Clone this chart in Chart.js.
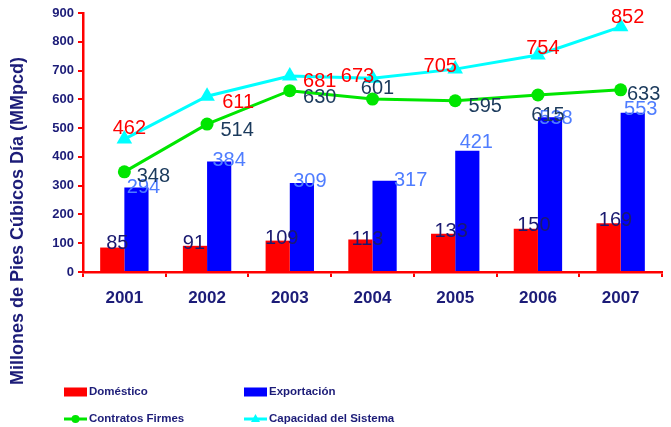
<!DOCTYPE html>
<html>
<head>
<meta charset="utf-8">
<script src="https://cdn.jsdelivr.net/npm/chart.js@4"></script>
<style>
  body { margin: 0; background: #fff; }
  #wrap { width: 671px; height: 427px; position: relative; }
</style>
</head>
<body>
<div id="wrap"><canvas id="myChart"></canvas></div>
<script>
const years = ['2001', '2002', '2003', '2004', '2005', '2006', '2007'];
const domestico = [85, 91, 109, 113, 133, 150, 169];
const exportacion = [294, 384, 309, 317, 421, 538, 553];
const contratos = [348, 514, 630, 601, 595, 615, 633];
const capacidad = [462, 611, 681, 673, 705, 754, 852];
const yMax = 900;
const yStep = 100;
const yTitle = 'Millones de Pies Cúbicos Día (MMpcd)';

const navy = '#1c1c78';

// where each value label sits relative to its mark (px), like the hand-placed labels
const labelShift = [
    [[5, -4], [-1, -2], [4, -2], [7, 0], [8, -2], [8, -3], [7, -3]],
    [[7, 0], [10, -1], [8, -2], [26, 0], [9, -8], [6, 1], [8, -3]],
    [[29, 5], [30, 6], [30, 7], [5, -11], [30, 6], [10, 20], [23, 5]],
    [[5, -11], [31, 6], [30, 5], [-15, -2], [-15, -3], [5, -7], [7, -9]]
];
const labelColors = ['#1a1a70', '#4f7dff', '#1b3a5c', '#ff0000'];

const valueLabels = {
    id: 'valueLabels',
    afterDatasetsDraw(chart) {
        const ctx = chart.ctx;
        ctx.save();
        ctx.font = '20px "Liberation Sans", Arial, sans-serif';
        ctx.textAlign = 'center';
        ctx.textBaseline = 'middle';
        [0, 1, 2, 3].forEach(di => {
            const meta = chart.getDatasetMeta(di);
            ctx.fillStyle = labelColors[di];
            meta.data.forEach((el, i) => {
                const s = labelShift[di][i];
                ctx.fillText(chart.data.datasets[di].data[i], el.x + s[0], el.y + s[1]);
            });
        });
        ctx.restore();
    }
};

const sideStuff = {
    id: 'sideStuff',
    afterDraw(chart) {
        const ctx = chart.ctx;
        ctx.save();
        // y axis title
        ctx.translate(18, 221);
        ctx.rotate(-Math.PI / 2);
        ctx.font = 'bold 18px "Liberation Sans", Arial, sans-serif';
        ctx.fillStyle = navy;
        ctx.textAlign = 'center';
        ctx.textBaseline = 'middle';
        ctx.fillText(yTitle, 0, 0);
        ctx.restore();

        // legend, two columns
        ctx.save();
        ctx.font = 'bold 11.5px "Liberation Sans", Arial, sans-serif';
        ctx.textBaseline = 'middle';
        const cols = [64, 244];
        const rows = [392, 419];
        chart.data.datasets.forEach((ds, i) => {
            const x = cols[i % 2];
            const y = rows[Math.floor(i / 2)];
            if (ds.type === 'line') {
                ctx.strokeStyle = ds.borderColor;
                ctx.lineWidth = 3;
                ctx.beginPath();
                ctx.moveTo(x, y);
                ctx.lineTo(x + 23, y);
                ctx.stroke();
                ctx.fillStyle = ds.borderColor;
                ctx.beginPath();
                if (ds.pointStyle === 'triangle') {
                    ctx.moveTo(x + 11.5, y - 5);
                    ctx.lineTo(x + 16, y + 3);
                    ctx.lineTo(x + 7, y + 3);
                } else {
                    ctx.arc(x + 11.5, y, 4, 0, Math.PI * 2);
                }
                ctx.fill();
            } else {
                ctx.fillStyle = ds.backgroundColor;
                ctx.fillRect(x, y - 4.5, 23, 9);
            }
            ctx.fillStyle = navy;
            ctx.fillText(ds.label, x + 25, y);
        });
        ctx.restore();
    }
};

var ctx = document.getElementById('myChart').getContext('2d');
var chart = new Chart(ctx, {
    data: {
        labels: years,
        datasets: [{
            type: 'bar',
            label: 'Doméstico',
            data: domestico,
            backgroundColor: '#ff0000',
            categoryPercentage: 0.585,
            barPercentage: 1.0,
            order: 2
        }, {
            type: 'bar',
            label: 'Exportación',
            data: exportacion,
            backgroundColor: '#0000ff',
            categoryPercentage: 0.585,
            barPercentage: 1.0,
            order: 2
        }, {
            type: 'line',
            label: 'Contratos Firmes',
            data: contratos,
            borderColor: '#00e600',
            backgroundColor: '#00e600',
            borderWidth: 3,
            pointStyle: 'circle',
            pointRadius: 6.5,
            pointBorderWidth: 0,
            tension: 0,
            order: 1
        }, {
            type: 'line',
            label: 'Capacidad del Sistema',
            data: capacidad,
            borderColor: '#00ffff',
            backgroundColor: '#00ffff',
            borderWidth: 3,
            pointStyle: 'triangle',
            pointRadius: 9,
            pointBorderWidth: 0,
            tension: 0,
            order: 0
        }]
    },
    options: {
        responsive: true,
        maintainAspectRatio: false,
        animation: false,
        layout: {
            padding: { left: 0, right: 0, top: 13, bottom: 115 }
        },
        plugins: {
            legend: { display: false },
            tooltip: { enabled: false }
        },
        scales: {
            x: {
                offset: true,
                grid: {
                    offset: true,
                    drawOnChartArea: false,
                    drawTicks: true,
                    tickLength: 5,
                    color: '#ff0000',
                    lineWidth: 2
                },
                border: { color: '#ff0000', width: 2.5 },
                ticks: {
                    color: navy,
                    padding: 11,
                    font: { family: '"Liberation Sans", Arial', weight: 'bold', size: 17 }
                },
                afterFit: s => { s.height = 40; }
            },
            y: {
                min: 0,
                max: yMax,
                grid: {
                    drawOnChartArea: false,
                    drawTicks: true,
                    tickLength: 5,
                    color: '#ff0000',
                    lineWidth: 2
                },
                border: { color: '#ff0000', width: 2.5 },
                ticks: {
                    stepSize: yStep,
                    color: navy,
                    padding: 4,
                    font: { family: '"Liberation Sans", Arial', weight: 'bold', size: 13 }
                },
                afterFit: s => { s.width = 83; }
            }
        }
    },
    plugins: [valueLabels, sideStuff]
});
</script>
</body>
</html>
